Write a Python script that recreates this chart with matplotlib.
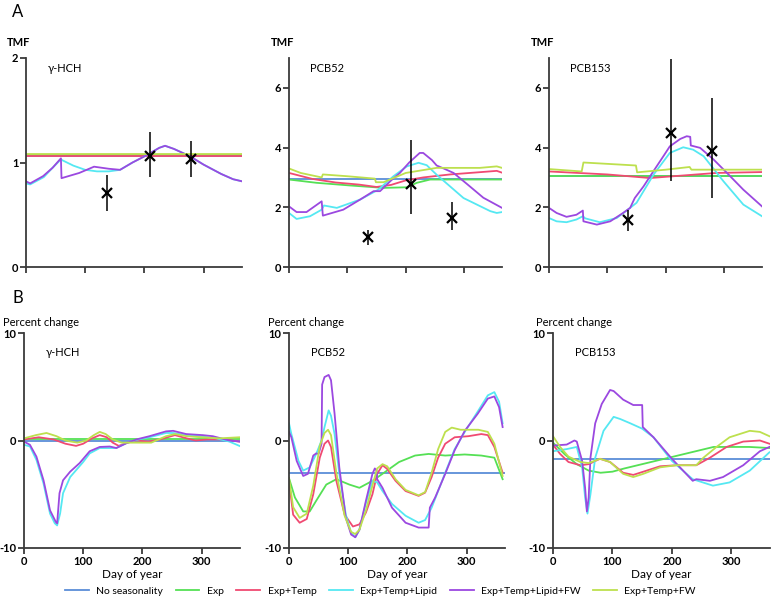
import matplotlib
matplotlib.use("Agg")
import matplotlib.pyplot as plt

plt.rcParams['font.family'] = ['Lato', 'DejaVu Sans']
plt.rcParams['axes.unicode_minus'] = False

# series names and colours (legend order)
series_names = ["No seasonality", "Exp", "Exp+Temp", "Exp+Temp+Lipid",
                "Exp+Temp+Lipid+FW", "Exp+Temp+FW"]
series_colors = ["#5b8ed8", "#55e055", "#f04a72", "#55e8f2", "#9b48e0", "#bde04e"]

# ---------------- A: TMF, gamma-HCH ----------------
a_hch_none = [(0, 1.06), (365, 1.06)]
a_hch_exp = [(0, 1.07), (365, 1.07)]
a_hch_temp = [(0, 1.06), (365, 1.06)]
a_hch_lipid = [(0, 0.80), (7, 0.79), (30, 0.86), (45, 0.95), (59, 1.03), (62, 1.02),
               (80, 0.97), (100, 0.93), (120, 0.915), (140, 0.915), (159, 0.93),
               (180, 1.0), (204, 1.07), (225, 1.14), (235, 1.16), (250, 1.13),
               (277, 1.06), (300, 0.98), (330, 0.89), (350, 0.84), (365, 0.82)]
a_hch_lipid_fw = [(0, 0.82), (7, 0.80), (29, 0.87), (45, 0.95), (59, 1.04), (60, 0.85),
                  (90, 0.90), (115, 0.96), (140, 0.94), (159, 0.93), (180, 1.0),
                  (204, 1.07), (225, 1.14), (235, 1.16), (250, 1.13), (277, 1.06),
                  (300, 0.98), (330, 0.89), (350, 0.84), (365, 0.82)]
a_hch_fw = [(0, 1.08), (365, 1.08)]
a_hch_obs_day = [137, 210, 279]
a_hch_obs = [0.71, 1.06, 1.03]
a_hch_obs_lo = [0.54, 0.86, 0.86]
a_hch_obs_hi = [0.88, 1.29, 1.21]

# ---------------- A: TMF, PCB52 ----------------
a_52_none = [(0, 2.95), (365, 2.95)]
a_52_exp = [(0, 2.93), (47, 2.82), (105, 2.73), (162, 2.65), (202, 2.67), (219, 2.82),
            (242, 2.93), (365, 2.93)]
a_52_temp = [(0, 3.15), (40, 2.95), (80, 2.83), (120, 2.76), (150, 2.68), (175, 2.75),
             (200, 2.90), (230, 3.00), (276, 3.10), (330, 3.18), (356, 3.22), (365, 3.16)]
a_52_lipid = [(0, 1.81), (13, 1.61), (36, 1.70), (56, 1.92), (60, 2.06), (82, 1.98),
              (122, 2.26), (153, 2.59), (179, 3.04), (202, 3.37), (222, 3.49), (236, 3.41),
              (253, 3.09), (276, 2.70), (299, 2.31), (322, 2.09), (345, 1.87), (356, 1.81),
              (365, 1.84)]
a_52_lipid_fw = [(0, 2.03), (13, 1.84), (30, 1.84), (56, 2.20), (58, 1.72), (93, 1.92),
                 (122, 2.26), (145, 2.54), (156, 2.54), (175, 2.90), (190, 3.15),
                 (206, 3.50), (224, 3.82), (230, 3.82), (245, 3.58), (253, 3.40),
                 (265, 3.30), (282, 3.15), (305, 2.78), (333, 2.32), (365, 1.98)]
a_52_fw = [(0, 3.30), (20, 3.15), (56, 3.00), (58, 3.10), (100, 3.04), (147, 2.96),
           (149, 2.84), (162, 2.84), (200, 3.15), (253, 3.32), (327, 3.32), (356, 3.37),
           (365, 3.32)]
a_52_obs_day = [136, 209, 279]
a_52_obs = [1.0, 2.79, 1.64]
a_52_obs_lo = [0.75, 1.79, 1.25]
a_52_obs_hi = [1.25, 4.25, 2.17]

# ---------------- A: TMF, PCB153 ----------------
a_153_none = [(0, 3.04), (365, 3.04)]
a_153_exp = [(0, 3.06), (365, 3.06)]
a_153_temp = [(0, 3.2), (100, 3.1), (173, 2.98), (213, 3.04), (287, 3.15), (365, 3.18)]
a_153_lipid = [(0, 1.64), (13, 1.53), (30, 1.50), (47, 1.59), (58, 1.70), (62, 1.63),
               (87, 1.50), (116, 1.64), (139, 1.98), (150, 2.15), (179, 3.09), (207, 3.82),
               (230, 4.01), (247, 3.93), (265, 3.71), (299, 2.87), (333, 2.09), (365, 1.70)]
a_153_lipid_fw = [(0, 1.98), (13, 1.81), (30, 1.68), (47, 1.75), (58, 1.89), (59, 1.53),
                  (82, 1.42), (105, 1.53), (127, 1.81), (139, 1.98), (147, 2.31),
                  (162, 2.70), (179, 3.21), (196, 3.71), (207, 4.04), (225, 4.29),
                  (236, 4.38), (242, 4.36), (243, 4.07), (259, 3.99), (282, 3.60),
                  (305, 3.15), (333, 2.59), (365, 2.03)]
a_153_fw = [(0, 3.28), (56, 3.2), (59, 3.5), (149, 3.4), (151, 3.17), (200, 3.26),
            (241, 3.35), (244, 3.26), (365, 3.26)]
a_153_obs_day = [136, 209, 279]
a_153_obs = [1.59, 4.49, 3.88]
a_153_obs_lo = [1.2, 2.87, 2.31]
a_153_obs_hi = [1.92, 6.97, 5.66]

# ---------------- B: percent change, gamma-HCH ----------------
b_hch_none = [(0, 0.0), (365, 0.0)]
b_hch_exp = [(0, 0.1), (365, 0.1)]
b_hch_temp = [(0, 0.1), (25, 0.3), (50, 0.1), (70, -0.3), (88, -0.5), (100, -0.3),
              (115, 0.2), (128, 0.5), (140, 0.3), (150, -0.2), (160, -0.5), (175, -0.2),
              (190, 0.0), (210, -0.1), (230, 0.1), (255, 0.5), (275, 0.2), (290, 0.0),
              (310, 0.1), (340, 0.1), (364, -0.1)]
b_hch_lipid = [(0, -0.4), (10, -0.55), (21, -1.8), (33, -4.0), (44, -6.8), (52, -7.7),
               (56, -7.9), (61, -6.8), (66, -4.9), (78, -3.4), (89, -2.7), (100, -2.0),
               (111, -1.2), (128, -0.7), (145, -0.7), (156, -0.7), (173, -0.25),
               (190, 0.06), (212, 0.3), (240, 0.7), (252, 0.7), (274, 0.5), (297, 0.4),
               (325, 0.2), (347, -0.1), (364, -0.5)]
b_hch_lipid_fw = [(0, -0.1), (10, -0.4), (21, -1.5), (33, -3.7), (44, -6.5), (54, -7.6),
                  (56, -7.7), (60, -4.9), (66, -3.7), (78, -2.9), (94, -2.1), (111, -1.0),
                  (128, -0.6), (145, -0.56), (156, -0.7), (173, -0.25), (190, 0.1),
                  (212, 0.4), (240, 0.85), (252, 0.9), (274, 0.6), (302, 0.5), (319, 0.4),
                  (347, 0.0), (364, -0.1)]
b_hch_fw = [(0, 0.2), (20, 0.5), (38, 0.7), (55, 0.4), (70, 0.0), (90, -0.2), (105, 0.0),
            (118, 0.5), (128, 0.8), (138, 0.6), (150, 0.1), (165, -0.2), (190, -0.2),
            (215, -0.2), (240, 0.4), (255, 0.6), (275, 0.4), (300, 0.3), (330, 0.2),
            (364, 0.3)]

# ---------------- B: percent change, PCB52 ----------------
b_52_none = [(0, -3.0), (365, -3.0)]
b_52_exp = [(0, -3.5), (10, -5.3), (24, -6.6), (35, -6.6), (46, -5.6), (63, -4.1),
            (80, -3.6), (102, -4.1), (119, -4.4), (141, -3.75), (158, -3.1), (186, -2.0),
            (213, -1.4), (236, -1.25), (264, -1.4), (297, -1.3), (325, -1.4), (347, -1.6),
            (361, -3.6)]
b_52_temp = [(0, -3.75), (7, -6.9), (18, -7.65), (30, -7.3), (41, -5.0), (52, -1.6),
             (60, -0.3), (66, 0.0), (71, -0.6), (80, -3.75), (94, -6.9), (108, -8.0),
             (119, -7.8), (130, -6.7), (141, -5.0), (149, -3.1), (158, -2.3), (166, -2.65),
             (180, -3.75), (197, -4.7), (219, -5.15), (230, -4.85), (241, -3.4),
             (252, -1.6), (264, -0.3), (280, 0.3), (303, 0.4), (325, 0.6), (336, 0.5),
             (347, -0.6), (361, -3.0)]
b_52_lipid = [(0, 1.6), (4, 0.6), (16, -1.9), (24, -2.8), (35, -2.5), (46, -1.25),
              (55, 0.0), (60, 1.25), (67, 2.8), (71, 2.3), (77, 0.6), (85, -3.1),
              (96, -6.9), (105, -8.6), (112, -9.0), (119, -8.3), (130, -5.8), (141, -3.75),
              (149, -3.9), (158, -4.7), (174, -5.9), (197, -7.0), (219, -7.65),
              (230, -7.4), (241, -6.25), (252, -4.7), (264, -3.0), (280, -0.8), (297, 0.8),
              (319, 2.7), (336, 4.2), (347, 4.5), (355, 3.6), (361, 1.6)]
b_52_lipid_fw = [(0, 0.8), (4, 0.3), (13, -1.9), (24, -3.3), (32, -3.1), (41, -1.4),
                 (46, -1.2), (50, -1.25), (55, -0.3), (56, 5.2), (60, 5.9), (67, 6.1),
                 (71, 5.6), (77, 2.5), (85, -2.5), (96, -7.2), (105, -8.75), (112, -9.0),
                 (119, -8.3), (130, -5.6), (141, -3.1), (145, -2.6), (148, -2.8),
                 (149, -3.6), (158, -4.4), (174, -6.25), (197, -7.65), (219, -8.1),
                 (236, -8.1), (238, -6.25), (247, -5.3), (264, -3.1), (280, -0.9),
                 (297, 0.9), (319, 2.5), (336, 3.9), (347, 4.1), (355, 3.1), (361, 1.25)]
b_52_fw = [(0, -3.5), (7, -6.2), (18, -7.2), (30, -6.8), (41, -4.2), (52, -0.5), (60, 0.7),
           (66, 1.0), (71, 0.5), (80, -3.0), (94, -7.0), (105, -8.5), (112, -8.7),
           (119, -8.3), (130, -6.5), (141, -4.2), (149, -2.6), (158, -2.2), (166, -2.4),
           (180, -3.6), (197, -4.6), (219, -5.1), (230, -4.8), (241, -3.0), (252, -0.8),
           (264, 0.8), (275, 1.2), (290, 1.0), (320, 1.0), (336, 0.8), (347, -0.3),
           (361, -3.3)]

# ---------------- B: percent change, PCB153 ----------------
b_153_none = [(0, -1.7), (365, -1.7)]
b_153_exp = [(0, -0.2), (20, -1.3), (40, -2.2), (60, -2.8), (80, -3.0), (100, -2.9),
             (120, -2.6), (150, -2.2), (180, -1.8), (210, -1.4), (240, -1.0), (270, -0.6),
             (300, -0.6), (330, -0.6), (364, -0.7)]
b_153_temp = [(0, -0.4), (12, -1.25), (26, -2.0), (46, -2.3), (60, -2.2), (79, -1.7),
              (96, -2.0), (118, -3.0), (135, -3.2), (152, -2.9), (180, -2.4), (208, -2.3),
              (241, -2.3), (264, -1.6), (292, -0.6), (320, -0.1), (348, 0.0), (364, -0.3)]
b_153_lipid = [(0, -1.0), (23, -0.8), (40, -0.6), (49, -2.5), (54, -5.3), (58, -6.8),
               (63, -5.0), (71, -1.6), (85, 0.9), (102, 2.2), (113, 2.0), (130, 1.6),
               (150, 1.1), (169, 0.3), (200, -1.9), (235, -3.6), (269, -4.2), (297, -3.9),
               (331, -2.8), (364, -1.1)]
b_153_lipid_fw = [(0, -0.47), (23, -0.38), (36, 0.0), (40, -0.1), (49, -1.9), (54, -4.4),
                  (57, -6.6), (60, -5.3), (63, -1.6), (71, 1.6), (82, 3.4), (96, 4.7),
                  (102, 4.6), (118, 3.8), (135, 3.3), (150, 3.3), (151, 1.25), (169, 0.3),
                  (200, -1.7), (235, -3.75), (241, -3.6), (264, -3.75), (286, -3.4),
                  (320, -2.3), (348, -1.0), (364, -0.6)]
b_153_fw = [(0, 0.4), (12, -0.6), (26, -1.5), (46, -2.0), (60, -2.1), (79, -1.7), (96, -2.0),
            (118, -3.1), (135, -3.4), (152, -3.1), (180, -2.5), (208, -2.3), (241, -2.3),
            (253, -1.6), (275, -0.6), (297, 0.3), (331, 0.9), (348, 0.8), (364, 0.4)]

W, H = 773, 600
fig = plt.figure(figsize=(W / 100, H / 100), dpi=100)


def box(l, r, t, b):
    return [l / W, 1 - b / H, (r - l) / W, (b - t) / H]


def style(ax):
    for s in ["top", "right"]:
        ax.spines[s].set_visible(False)
    for s in ["left", "bottom"]:
        ax.spines[s].set_color("#3a3a3a")
        ax.spines[s].set_linewidth(1.3)
    ax.tick_params(direction="out", length=4, width=1.3, color="#3a3a3a",
                   labelsize=8, pad=1.5)
    for lab in ax.get_xticklabels() + ax.get_yticklabels():
        lab.set_fontweight("bold")
    ax.set_xlim(0, 365)
    ax.set_xticks([0, 100, 200, 300])


def draw(ax, groups):
    handles = []
    for pts, col, name in zip(groups, series_colors, series_names):
        xs = [p[0] for p in pts]
        ys = [p[1] for p in pts]
        h, = ax.plot(xs, ys, color=col, lw=1.3, label=name)
        handles.append(h)
    return handles


top = [
    (box(26, 242, 58, 267), "γ-HCH",
     [a_hch_none, a_hch_exp, a_hch_temp, a_hch_lipid, a_hch_lipid_fw, a_hch_fw],
     (a_hch_obs_day, a_hch_obs, a_hch_obs_lo, a_hch_obs_hi), (0, 2), [0, 1, 2], 7),
    (box(289, 502, 58, 267), "PCB52",
     [a_52_none, a_52_exp, a_52_temp, a_52_lipid, a_52_lipid_fw, a_52_fw],
     (a_52_obs_day, a_52_obs, a_52_obs_lo, a_52_obs_hi), (0, 7), [0, 2, 4, 6], 271),
    (box(549, 762, 58, 267), "PCB153",
     [a_153_none, a_153_exp, a_153_temp, a_153_lipid, a_153_lipid_fw, a_153_fw],
     (a_153_obs_day, a_153_obs, a_153_obs_lo, a_153_obs_hi), (0, 7), [0, 2, 4, 6], 531),
]

for rect, name, groups, obs, ylim, yt, lx in top:
    ax = fig.add_axes(rect)
    draw(ax, groups)
    d, v, lo, hi = obs
    ax.vlines(d, lo, hi, color="black", lw=1.1, zorder=5)
    ax.plot(d, v, "x", color="black", ms=7, mew=1.6, zorder=6)
    ax.set_ylim(*ylim)
    ax.set_yticks(yt)
    style(ax)
    ax.set_xticklabels([])
    ax.text(0.1, 0.95, name, transform=ax.transAxes, fontsize=8, va="center")
    fig.text(lx / W, 1 - 43 / H, "TMF", fontsize=8, fontweight="bold", va="center")

bottom = [
    (box(24, 240, 333, 548), "γ-HCH",
     [b_hch_none, b_hch_exp, b_hch_temp, b_hch_lipid, b_hch_lipid_fw, b_hch_fw], 3),
    (box(289, 505, 333, 548), "PCB52",
     [b_52_none, b_52_exp, b_52_temp, b_52_lipid, b_52_lipid_fw, b_52_fw], 268),
    (box(553, 770, 333, 548), "PCB153",
     [b_153_none, b_153_exp, b_153_temp, b_153_lipid, b_153_lipid_fw, b_153_fw], 536),
]

for rect, name, groups, lx in bottom:
    ax = fig.add_axes(rect)
    handles = draw(ax, groups)
    ax.set_ylim(-10, 10)
    ax.set_yticks([-10, 0, 10])
    style(ax)
    ax.set_xlabel("Day of year", fontsize=8.5, labelpad=2)
    ax.text(0.1, 0.91, name, transform=ax.transAxes, fontsize=8, va="center")
    fig.text(lx / W, 1 - 322 / H, "Percent change", fontsize=8, va="center")

fig.text(12 / W, 1 - 12 / H, "A", fontsize=12, va="center")
fig.text(12 / W, 1 - 298 / H, "B", fontsize=12, va="center")

fig.legend(handles, series_names, loc="center", bbox_to_anchor=(0.492, 1 - 591 / H),
           ncol=6, frameon=False, fontsize=7.5, handlelength=2.3, columnspacing=1.2,
           handletextpad=0.7)

fig.savefig("out.png", dpi=100)
